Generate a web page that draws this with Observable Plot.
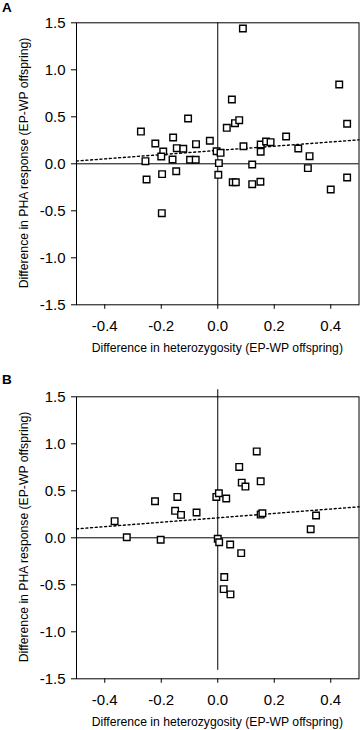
<!DOCTYPE html>
<html>
<head>
<meta charset="utf-8">
<script src="https://cdn.jsdelivr.net/npm/d3@7"></script>
<script src="https://cdn.jsdelivr.net/npm/@observablehq/plot@0.6"></script>
<style>
  html, body { margin: 0; padding: 0; background: #fff; }
  body { font-family: "Liberation Sans", Arial, sans-serif; color: #000; }
  #wrap { position: relative; width: 360px; height: 730px; overflow: hidden; }
  .panel { position: absolute; left: 0; width: 360px; }
  .plab { position: absolute; left: 2px; font-weight: bold; font-size: 13.5px; line-height: 13px; }
  .xt { position: absolute; left: 76px; width: 282.6px; text-align: center; font-size: 12.2px; line-height: 14px; white-space: nowrap; }
  .yt { position: absolute; width: 282px; height: 14px; text-align: center; font-size: 12.2px; line-height: 14px; white-space: nowrap; transform: rotate(-90deg); }
</style>
</head>
<body>
<div id="wrap"></div>
<script>
// ---- Data ----
const xTicks = [-0.4, -0.2, 0.0, 0.2, 0.4];
const yTicks = [-1.5, -1.0, -0.5, 0.0, 0.5, 1.0, 1.5];
const xTitle = "Difference in heterozygosity (EP-WP offspring)";
const yTitle = "Difference in PHA response (EP-WP offspring)";
const panelLabels = ["A", "B"];

// Panel A points
const aX = [-0.272, -0.256, -0.252, -0.221, -0.193, -0.200, -0.197, -0.158, -0.160, -0.147,
            -0.145, -0.122, -0.105, -0.098, -0.078, -0.077, -0.028, -0.004, 0.010, 0.004,
            0.002, 0.032, 0.050, 0.061, 0.076, 0.089, 0.091, 0.053, 0.064, 0.122,
            0.122, 0.151, 0.152, 0.152, 0.171, 0.187, 0.242, 0.285, 0.325, 0.319,
            0.400, 0.430, 0.458, 0.458, -0.198];
const aY = [0.343, 0.028, -0.167, 0.216, 0.131, 0.078, -0.110, 0.280, 0.046, -0.079,
            0.166, 0.160, 0.482, 0.043, 0.043, 0.209, 0.245, 0.134, 0.117, 0.007,
            -0.117, 0.383, 0.684, 0.432, 0.464, 1.439, 0.187, -0.196, -0.196, -0.007,
            -0.217, -0.191, 0.205, 0.128, 0.237, 0.230, 0.290, 0.163, 0.081, -0.046,
            -0.273, 0.844, 0.426, -0.146, -0.525];

// Panel B points
const bX = [-0.365, -0.322, -0.222, -0.202, -0.143, -0.151, -0.130, -0.075, -0.005, 0.004,
            0.030, 0.000, 0.005, 0.044, 0.083, 0.076, 0.085, 0.098, 0.138, 0.152,
            0.152, 0.158, 0.329, 0.348, 0.023, 0.021, 0.045];
const bY = [0.177, 0.006, 0.389, -0.021, 0.435, 0.287, 0.244, 0.269, 0.435, 0.474,
            0.418, -0.011, -0.047, -0.071, -0.163, 0.754, 0.587, 0.545, 0.919, 0.601,
            0.247, 0.261, 0.091, 0.237, -0.418, -0.546, -0.602];

// Fitted (dotted) regression lines: endpoints
const fitX = [-0.5, 0.5];
const fitAY = [0.03, 0.255];
const fitBY = [0.095, 0.33];

// Vertical x = 0 line extents
const vertA = [-1.5, 1.5];
const vertB = [-1.41, 1.575];

// ---- Drawing ----
const fmt = d => d.toFixed(1);
const FONT = '"Liberation Sans", Arial, sans-serif';

function makePanel(xs, ys, fitY, vert) {
  const pts = xs.map((x, i) => ({x, y: ys[i]}));
  const fit = fitX.map((x, i) => ({x, y: fitY[i]}));
  return Plot.plot({
    width: 360,
    height: 365,
    marginLeft: 76,
    marginRight: 1.5,
    marginTop: 22.3,
    marginBottom: 60.7,
    x: {domain: [-0.5, 0.5]},
    y: {domain: [-1.5, 1.5]},
    style: {fontFamily: FONT, fontSize: "15px", color: "#000", background: "#fff", overflow: "visible"},
    marks: [
      Plot.frame({stroke: "#000", strokeWidth: 1}),
      Plot.ruleY([0], {stroke: "#000", strokeWidth: 1}),
      Plot.ruleX([{x: 0, y1: vert[0], y2: vert[1]}], {x: "x", y1: "y1", y2: "y2", stroke: "#000", strokeWidth: 1}),
      Plot.line(fit, {x: "x", y: "y", stroke: "#000", strokeWidth: 1.4, strokeDasharray: "2,2.7"}),
      Plot.dot(pts, {x: "x", y: "y", symbol: "square", r: 3.7, fill: "#fff", stroke: "#000", strokeWidth: 1.4}),
      Plot.axisX({ticks: xTicks, tickFormat: fmt, tickSize: 4.5, tickPadding: 11, label: null, fontSize: 15, stroke: "#000"}),
      Plot.axisY({ticks: yTicks, tickFormat: fmt, tickSize: 5, tickPadding: 6, label: null, fontSize: 15, stroke: "#000"})
    ]
  });
}

const wrap = document.getElementById("wrap");
const panels = [
  {xs: aX, ys: aY, fit: fitAY, vert: vertA, top: 0},
  {xs: bX, ys: bY, fit: fitBY, vert: vertB, top: 374}
];

panels.forEach((p, i) => {
  const holder = document.createElement("div");
  holder.className = "panel";
  holder.style.top = p.top + "px";
  holder.appendChild(makePanel(p.xs, p.ys, p.fit, p.vert));
  wrap.appendChild(holder);

  const lab = document.createElement("div");
  lab.className = "plab";
  lab.style.top = (p.top + 1 - (i ? 2 : 0)) + "px";
  lab.textContent = panelLabels[i];
  wrap.appendChild(lab);

  const xt = document.createElement("div");
  xt.className = "xt";
  xt.style.top = (p.top + 341) + "px";
  xt.textContent = xTitle;
  wrap.appendChild(xt);

  const yt = document.createElement("div");
  yt.className = "yt";
  yt.style.left = (24 - 141) + "px";
  yt.style.top = (p.top + 163.3 - 7) + "px";
  yt.textContent = yTitle;
  wrap.appendChild(yt);
});
</script>
</body>
</html>
